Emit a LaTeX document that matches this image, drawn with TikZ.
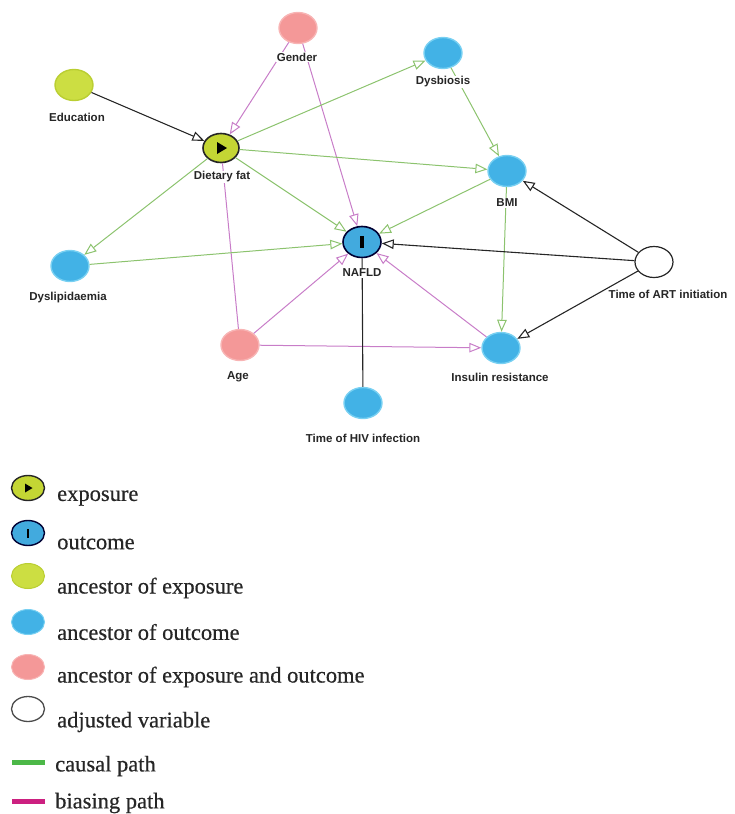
\documentclass[tikz,border=0pt]{standalone}
\usepackage{fontspec}
\setmainfont{Liberation Serif}
\setsansfont{Liberation Sans}
\newfontfamily\legfont{Liberation Serif}[FakeBold=0.5]
\usetikzlibrary{shapes.geometric,arrows.meta,calc}
\definecolor{expfill}{RGB}{196,214,52}
\definecolor{ancexp}{RGB}{204,222,66}
\definecolor{ancexpB}{RGB}{186,206,50}
\definecolor{ancout}{RGB}{66,178,230}
\definecolor{ancoutB}{RGB}{120,208,242}
\definecolor{outfill}{RGB}{66,170,222}
\definecolor{ancboth}{RGB}{244,152,152}
\definecolor{ancbothB}{RGB}{248,180,180}
\definecolor{cgreen}{RGB}{140,195,110}
\definecolor{bpink}{RGB}{200,125,200}
\definecolor{lgreen}{RGB}{76,184,72}
\definecolor{lpink}{RGB}{204,32,128}
\tikzset{
  nd/.style={ellipse, minimum width=38pt, minimum height=31pt, inner sep=0pt},
  nexp/.style={nd, fill=expfill, draw=black!85, line width=1.6pt, minimum width=36pt, minimum height=29pt},
  nout/.style={nd, fill=outfill, draw=black!80!blue, line width=1.6pt},
  naexp/.style={nd, fill=ancexp, draw=ancexpB, line width=1.4pt},
  naout/.style={nd, fill=ancout, draw=ancoutB, line width=1.4pt},
  naboth/.style={nd, fill=ancboth, draw=ancbothB, line width=1.4pt},
  nadj/.style={nd, fill=white, draw=black!85, line width=1.2pt},
  lbl/.style={font=\sffamily\bfseries\fontsize{11.5}{12}\selectfont, fill=white, inner sep=1pt, text=black!85},
  tip/.style={-{Triangle[length=12pt,width=9.5pt,fill=white]}},
  causal/.style={draw=cgreen, line width=1pt, tip},
  biasing/.style={draw=bpink, line width=1pt, tip},
  biasline/.style={draw=bpink, line width=1pt},
  plain/.style={draw=black!85, line width=1.1pt, tip},
  plainline/.style={draw=black!85, line width=1.1pt},
  legtext/.style={anchor=west, font=\legfont\fontsize{22.5}{24}\selectfont, inner sep=0pt, text=black!85},
  legnd/.style={ellipse, minimum width=33pt, minimum height=25pt, inner sep=0pt},
}
\begin{document}
\begin{tikzpicture}[x=1pt,y=-1pt]
\useasboundingbox (0,0) rectangle (735,814);
% nodes
\node[naboth] (gender) at (298,28) {};
\node[naexp] (edu) at (74,85) {};
\node[nexp] (diet) at (221,148) {};
\fill[black] ($(diet)+(-4,-6)$) -- ($(diet)+(6,0)$) -- ($(diet)+(-4,6)$) -- cycle;
\node[naout] (dysb) at (443,53) {};
\node[naout] (bmi) at (507,171) {};
\node[nout] (nafld) at (362,242) {};
\fill[black] ($(nafld)+(-1.6,-6)$) rectangle ($(nafld)+(1.6,6)$);
\node[naout] (dysl) at (70,266) {};
\node[nadj] (art) at (654,262) {};
\node[naboth] (age) at (240,345) {};
\node[naout] (ins) at (501,348) {};
\node[naout] (hiv) at (363,403) {};
% edges
\draw[plain] (edu) -- (diet);
\draw[biasing] (gender) -- (diet);
\draw[biasing] (gender) -- (nafld);
\draw[causal] (diet) -- (dysb);
\draw[causal] (diet) -- (bmi);
\draw[causal] (diet) -- (nafld);
\draw[causal] (diet) -- (dysl);
\draw[biasline] (age) -- (diet);
\draw[causal] (dysb) -- (bmi);
\draw[causal] (bmi) -- (nafld);
\draw[causal] (bmi) -- (ins);
\draw[causal] (dysl) -- (nafld);
\draw[plain] (art) -- (bmi);
\draw[plain] (art) -- (nafld);
\draw[plain] (art) -- (ins);
\draw[biasing] (age) -- (nafld);
\draw[biasing] (age) -- (ins);
\draw[biasing] (ins) -- (nafld);
\draw[plainline] (hiv) -- (nafld);
% labels
\node[lbl] (lgender) at (297,57) {Gender};
\node[lbl] (ledu) at (77,117) {Education};
\node[lbl] (ldiet) at (222,177) {Dietary fat};
\node[lbl] (ldysb) at (443,82) {Dysbiosis};
\node[lbl] (lbmi) at (507,203) {BMI};
\node[lbl] (lnafld) at (362,273) {NAFLD};
\node[lbl] (ldysl) at (68,298) {Dyslipidaemia};
\node[lbl] (lart) at (668,294) {Time of ART initiation};
\node[lbl] (lage) at (238,377) {Age};
\node[lbl] (lins) at (500,377) {Insulin resistance};
\node[lbl] (lhiv) at (363,438) {Time of HIV infection};
% legend
\node[legnd, fill=expfill, draw=black!85, line width=1.4pt] (k1) at (28,488) {};
\fill[black] ($(k1)+(-3,-4.5)$) -- ($(k1)+(4.5,0)$) -- ($(k1)+(-3,4.5)$) -- cycle;
\node[legtext] (t1) at (57,498) {exposure};
\node[legnd, fill=outfill, draw=black!80!blue, line width=1.4pt] (k2) at (28,533) {};
\fill[black] ($(k2)+(-1.3,-4.5)$) rectangle ($(k2)+(1.3,4.5)$);
\node[legtext] (t2) at (57,543) {outcome};
\node[legnd, fill=ancexp, draw=ancexpB, line width=1pt] (k3) at (28,576) {};
\node[legtext] (t3) at (57,588) {ancestor of exposure};
\node[legnd, fill=ancout, draw=ancoutB, line width=1pt] (k4) at (28,622) {};
\node[legtext] (t4) at (57,632) {ancestor of outcome};
\node[legnd, fill=ancboth, draw=ancbothB, line width=1pt] (k5) at (28,667) {};
\node[legtext] (t5) at (57,677) {ancestor of exposure and outcome};
\node[legnd, fill=white, draw=black!70, line width=1.3pt] (k6) at (28,709) {};
\node[legtext] (t6) at (57,722) {adjusted variable};
\fill[lgreen] (12,759.5) rectangle (45,765);
\node[legtext] (t7) at (55,766) {causal path};
\fill[lpink] (12,798.5) rectangle (45,804);
\node[legtext] (t8) at (55,803) {biasing path};
\end{tikzpicture}
\end{document}
